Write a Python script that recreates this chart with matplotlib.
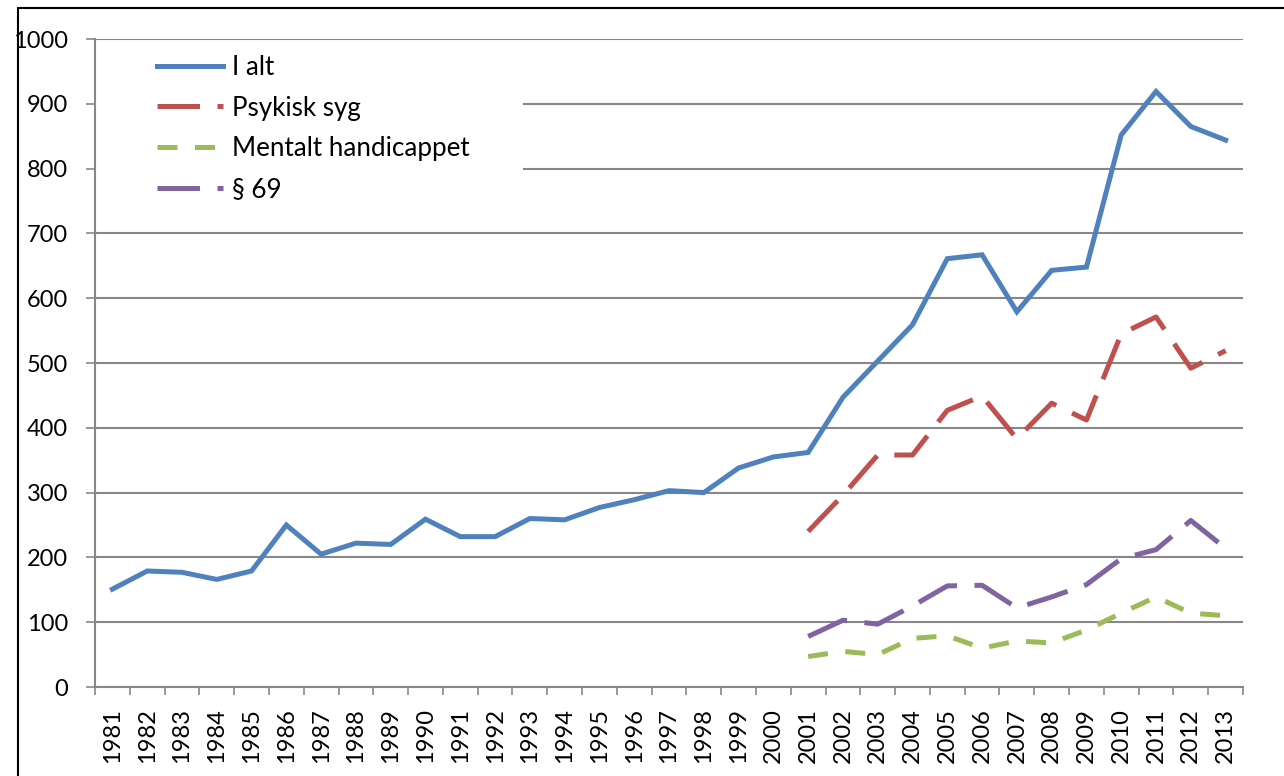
import numpy as np
import matplotlib.pyplot as plt
from matplotlib.patches import Rectangle

# Data
years = list(range(1981, 2014))
i_alt = [151, 179, 177, 166, 179, 250, 205, 222, 220, 259, 232, 232, 260,
         258, 277, 289, 303, 300, 338, 355, 362, 447, 503, 559, 661, 667,
         579, 643, 648, 852, 919, 865, 844]

sub_years = list(range(2001, 2014))
psykisk = [240, 296, 358, 358, 427, 449, 383, 438, 412, 545, 571, 492, 519]
mentalt = [47, 55, 50, 75, 79, 60, 71, 68, 88, 114, 139, 114, 110]
par69 = [78, 103, 97, 125, 156, 157, 122, 139, 158, 198, 212, 257, 214]

labels = ["I alt", "Psykisk syg", "Mentalt handicappet", "§ 69"]
colors = ["#4F81BD", "#C0504D", "#9BBB59", "#8064A2"]

plt.rcParams['font.family'] = ['Lato', 'DejaVu Sans']
grid_col = "#878787"

fig = plt.figure(figsize=(12.84, 7.76), dpi=100)
W, H = 1284, 776
ax = fig.add_axes([95 / W, 1 - 687 / H, (1243 - 95) / W, (687 - 39) / H])

x_all = np.arange(len(years))
x_sub = np.array([years.index(y) for y in sub_years])

lw = 3.6
ax.plot(x_all, i_alt, color=colors[0], lw=lw, label=labels[0],
        solid_joinstyle='miter', zorder=3)
ax.plot(x_sub, psykisk, color=colors[1], lw=lw, label=labels[1],
        dashes=(8.5, 3.5), dash_capstyle='butt', zorder=3)
ax.plot(x_sub, mentalt, color=colors[2], lw=lw, label=labels[2],
        dashes=(4, 3.5), dash_capstyle='butt', zorder=3)
ax.plot(x_sub, par69, color=colors[3], lw=lw, label=labels[3],
        dashes=(8.5, 3.5), dash_capstyle='butt', zorder=3)

# axes
ax.set_xlim(-0.5, len(years) - 0.5)
ax.set_ylim(0, 1000)
ax.set_yticks(np.arange(0, 1001, 100))
ax.set_xticks(x_all)
ax.set_xticklabels([str(y) for y in years], rotation=90)
ax.set_xticks(np.arange(-0.5, len(years), 1), minor=True)

ax.set_axisbelow(True)
ax.yaxis.grid(True, color=grid_col, lw=1.5)
for s in ['top', 'right']:
    ax.spines[s].set_visible(False)
for s in ['left', 'bottom']:
    ax.spines[s].set_color(grid_col)
    ax.spines[s].set_linewidth(1.5)

ax.tick_params(axis='y', direction='out', length=6.5, width=1.2,
               color=grid_col, pad=13, labelsize=17)
ax.tick_params(axis='x', which='major', length=0, pad=15, labelsize=17)
ax.tick_params(axis='x', which='minor', direction='out', length=5.8,
               width=1.2, color=grid_col)

# white backing behind the legend
ax.add_patch(Rectangle((1 / 1148, 1 - (225 - 39) / 648),
                       (523 - 96) / 1148, (225 - 45) / 648,
                       transform=ax.transAxes, facecolor='white',
                       edgecolor='none', zorder=1))

ax.legend(loc='upper left', bbox_to_anchor=(62 / 1148, 1 - (55 - 39) / 648),
          frameon=False, fontsize=18.7, borderpad=0, borderaxespad=0,
          handlelength=2.54, handletextpad=0.35, labelspacing=0.6)

# outer chart frame
fig.patches.append(Rectangle((18 / W, -0.05), 1.1, 1 - 8 / H + 0.05,
                             transform=fig.transFigure, fill=False,
                             edgecolor='black', lw=1.5))

fig.savefig("out.png", dpi=100)
